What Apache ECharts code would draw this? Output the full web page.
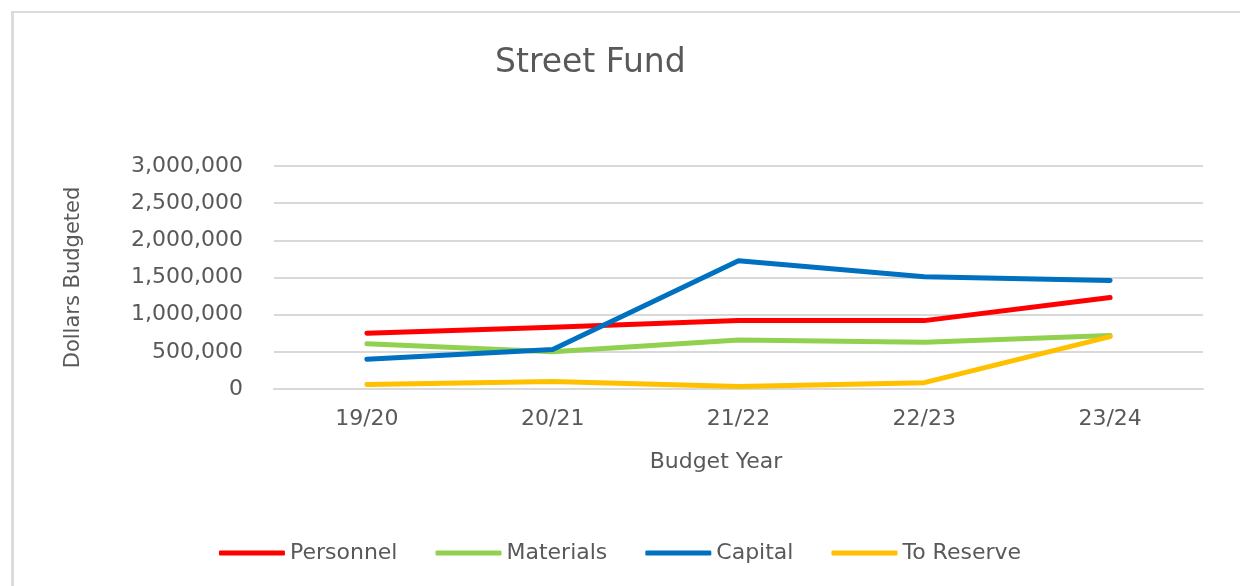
<!DOCTYPE html>
<html>
<head>
<meta charset="utf-8">
<title>Street Fund</title>
<script src="https://cdn.jsdelivr.net/npm/echarts@6/dist/echarts.min.js"></script>
<style>
  html, body { margin: 0; padding: 0; background: #fff; overflow: hidden; }
  .page { position: relative; width: 1240px; height: 586px; overflow: hidden; }
  .chart-frame {
    position: absolute;
    left: 11px;
    top: 11px;
    width: 1400px;
    height: 700px;
    border-left: 3px solid #dcdcdc;
    border-top: 2px solid #dcdcdc;
  }
  #chart { position: absolute; left: 0; top: 0; width: 1240px; height: 586px; }
</style>
</head>
<body>
<div class="page">
  <div class="chart-frame"></div>
  <div id="chart"></div>
</div>
<script>
const years = ['19/20', '20/21', '21/22', '22/23', '23/24']
const personnel = [750000, 830000, 920000, 920000, 1230000]
const materials = [610000, 500000, 660000, 630000, 720000]
const capital = [400000, 530000, 1725000, 1510000, 1460000]
const toReserve = [60000, 100000, 35000, 85000, 705000]

const textColor = '#595959'
const gridColor = '#d9d9d9'
const font = 'DejaVu Sans'

const chart = echarts.init(document.getElementById('chart'))

function makeLine(name, data, color) {
  return {
    name: name,
    type: 'line',
    data: data,
    symbol: 'none',
    lineStyle: { color: color, width: 5, cap: 'round', join: 'round' },
    itemStyle: { color: color }
  }
}

const option = {
  animation: false,
  textStyle: { fontFamily: font, color: textColor },
  title: {
    text: 'Street Fund',
    left: 490,
    top: 42,
    textStyle: { fontFamily: font, fontSize: 33, fontWeight: 'normal', color: textColor }
  },
  legend: {
    bottom: 17,
    left: 'center',
    icon: 'roundRect',
    itemWidth: 66,
    itemHeight: 5,
    itemGap: 38,
    textStyle: { fontFamily: font, fontSize: 22, color: textColor },
    data: ['Personnel', 'Materials', 'Capital', 'To Reserve']
  },
  grid: {
    left: 274,
    right: 37,
    top: 166,
    bottom: 197,
    containLabel: false
  },
  xAxis: {
    type: 'category',
    data: years,
    boundaryGap: true,
    name: 'Budget Year',
    nameLocation: 'middle',
    nameGap: 62,
    nameTextStyle: { fontFamily: font, fontSize: 22, color: textColor, padding: [0, 45, 0, 0] },
    axisLine: { lineStyle: { color: gridColor, width: 2 } },
    axisTick: { show: false },
    axisLabel: { fontFamily: font, fontSize: 22, color: textColor, margin: 19 }
  },
  yAxis: {
    type: 'value',
    min: 0,
    max: 3000000,
    interval: 500000,
    name: 'Dollars Budgeted',
    nameLocation: 'middle',
    nameGap: 190,
    nameTextStyle: { fontFamily: font, fontSize: 21, color: textColor },
    axisLine: { show: false },
    axisTick: { show: false },
    axisLabel: {
      fontFamily: font,
      fontSize: 22,
      color: textColor,
      margin: 31,
      formatter: v => v.toLocaleString('en-US')
    },
    splitLine: { lineStyle: { color: gridColor, width: 2 } }
  },
  series: [
    makeLine('Personnel', personnel, '#ff0000'),
    makeLine('Materials', materials, '#92d050'),
    makeLine('Capital', capital, '#0070c0'),
    makeLine('To Reserve', toReserve, '#ffc000')
  ]
}

chart.setOption(option)
</script>
</body>
</html>
